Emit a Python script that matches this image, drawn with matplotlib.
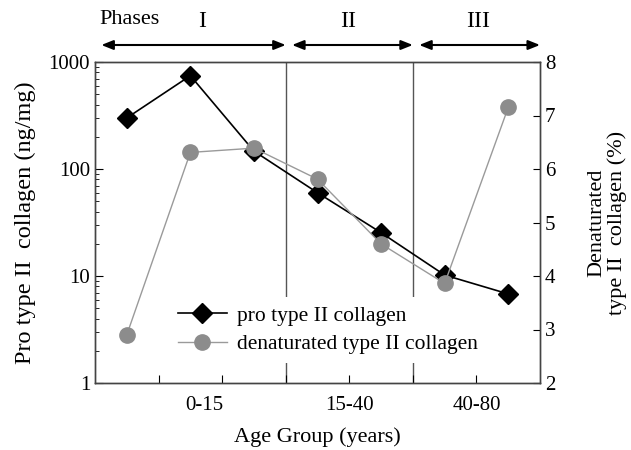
import matplotlib
matplotlib.use("Agg")
import matplotlib.pyplot as plt

plt.rcParams['font.family'] = ['Liberation Serif', 'DejaVu Serif']

# data
positions = [0.5, 1.5, 2.5, 3.5, 4.5, 5.5, 6.5]
pro_collagen = [300, 745, 147, 60, 25.4, 10.2, 6.8]          # ng/mg (left, log)
denat_collagen = [2.90, 6.31, 6.39, 5.81, 4.60, 3.86, 7.15]  # % (right)
group_labels = ["0-15", "15-40", "40-80"]
group_label_pos = [1.72, 4.0, 6.0]
phase_names = ["I", "II", "III"]
phase_bounds = [(0.1, 3.0), (3.1, 5.0), (5.1, 7.0)]
phase_label_pos = [1.69, 3.98, 6.03]
phase_dividers = [3, 5]

fig = plt.figure(figsize=(6.31, 4.5), dpi=100)
ax = fig.add_axes([95/631, 1-383/450, 445/631, 321/450])
ax2 = ax.twinx()

fs = 15
ax.set_yscale('log')
ax.set_ylim(1, 1000)
ax.set_xlim(0, 7)
ax2.set_ylim(2, 8)

for xd in phase_dividers:
    ax.axvline(xd, color='#555555', lw=1.0, zorder=1)

l1, = ax.plot(positions, pro_collagen, color='black', lw=1.2, marker='D',
              markersize=10, markerfacecolor='black', markeredgecolor='black',
              zorder=5, label='pro type II collagen')
l2, = ax2.plot(positions, denat_collagen, color='#9a9a9a', lw=1.0, marker='o',
               markersize=11, markerfacecolor='#8c8c8c', markeredgecolor='#8c8c8c',
               zorder=4, label='denaturated type II collagen')

ax.xaxis.remove_overlapping_locs = False
ax.set_xticks([1, 2, 3, 4, 5, 6])
ax.set_xticklabels([])
ax.set_xticks(group_label_pos, minor=True)
ax.set_xticklabels(group_labels, minor=True, fontsize=fs)
ax.tick_params(axis='x', which='major', direction='in', length=6, top=False)
ax.tick_params(axis='x', which='minor', length=0, pad=9)

ax.set_yticks([1, 10, 100, 1000])
ax.set_yticklabels(['1', '10', '100', '1000'], fontsize=fs)
ax.tick_params(axis='y', which='major', direction='in', length=6)
ax.tick_params(axis='y', which='minor', direction='in', length=3)

ax2.set_yticks([2, 3, 4, 5, 6, 7, 8])
ax2.set_yticklabels(['2', '3', '4', '5', '6', '7', '8'], fontsize=fs)
ax2.tick_params(axis='y', direction='in', length=5)

for a in (ax, ax2):
    for s in a.spines.values():
        s.set_color('#444444')
        s.set_linewidth(1.0)

ax.set_ylabel('Pro type II  collagen (ng/mg)', fontsize=17.5, labelpad=9)
ax2.set_ylabel('Denaturated\ntype II  collagen (%)', fontsize=16, labelpad=23,
               rotation=90, linespacing=1.05)
ax.set_xlabel('Age Group (years)', fontsize=16, labelpad=9)

leg = ax2.legend(handles=[l1, l2], loc='center left',
                 bbox_to_anchor=((169-95)/445, (383-330)/321),
                 fontsize=15.5, frameon=True, handlelength=2.3, handletextpad=0.45,
                 borderaxespad=0.0, labelspacing=0.4)
leg.get_frame().set_facecolor('white')
leg.get_frame().set_edgecolor('none')
leg.get_frame().set_alpha(1.0)

# phases
yarrow = 1 + 17/321
ytext = 1 + 41/321
for (x0, x1), name, xp in zip(phase_bounds, phase_names, phase_label_pos):
    ax.annotate('', xy=(x0, yarrow), xytext=(x1, yarrow),
                xycoords=('data', 'axes fraction'), textcoords=('data', 'axes fraction'),
                arrowprops=dict(arrowstyle='<|-|>,head_length=0.7,head_width=0.28',
                                color='black', lw=1.5, shrinkA=0, shrinkB=0),
                annotation_clip=False)
    ax.text(xp, ytext, name, transform=ax.get_xaxis_transform(), ha='center',
            va='center', fontsize=17, clip_on=False)
ax.text(0.55, ytext + 0.005, 'Phases', transform=ax.get_xaxis_transform(), ha='center',
        va='center', fontsize=16, clip_on=False)

fig.savefig('out.png', dpi=100)
